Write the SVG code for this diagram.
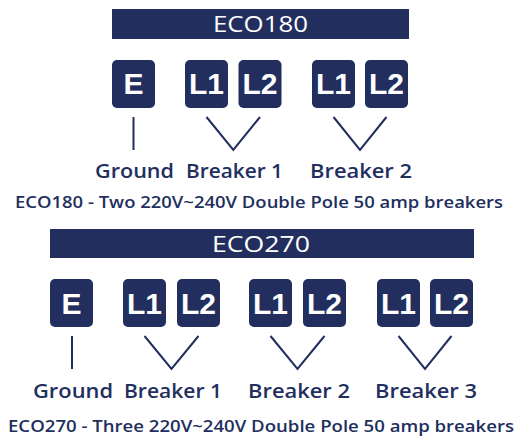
<svg xmlns="http://www.w3.org/2000/svg" width="520" height="436" viewBox="0 0 520 436">
<style>
.bar{fill:#222F5E}
.bt{fill:#fff;font-family:"Open Sans","Liberation Sans",sans-serif;font-weight:500;font-size:21.5px;text-anchor:middle}
.box{fill:#222F5E}
.k{fill:#fff;font-family:"Liberation Sans",Arial,sans-serif;font-weight:bold;font-size:30px;text-anchor:middle}
.lbl{fill:#222F5E;font-family:"Open Sans","Liberation Sans",sans-serif;font-weight:600;font-size:20px;text-anchor:middle}
.cap{fill:#222F5E;font-family:"Open Sans","Liberation Sans",sans-serif;font-weight:600;font-size:16px;text-anchor:middle}
.ln{fill:none;stroke:#222F5E;stroke-width:2}
</style>
<rect width="520" height="436" fill="#fff"/>

<g id="hdr180"><rect class="bar" x="112" y="9" width="297" height="30"/><text class="bt" x="260.5" y="32" textLength="95" lengthAdjust="spacingAndGlyphs">ECO180</text></g>
<g id="t-E"><rect class="box" x="112" y="60" width="43" height="48" rx="5"/><text class="k" x="133.5" y="94">E</text></g>
<g id="t-b1-L1"><rect class="box" x="185" y="60" width="43" height="48" rx="5"/><text class="k" x="206.5" y="94">L1</text></g>
<g id="t-b1-L2"><rect class="box" x="238.5" y="60" width="43" height="48" rx="5"/><text class="k" x="260" y="94">L2</text></g>
<g id="t-b2-L1"><rect class="box" x="312" y="60" width="43" height="48" rx="5"/><text class="k" x="333.5" y="94">L1</text></g>
<g id="t-b2-L2"><rect class="box" x="365" y="60" width="43" height="48" rx="5"/><text class="k" x="386.5" y="94">L2</text></g>
<g id="t-lbl-g"><text class="lbl" x="134.5" y="178" textLength="79" lengthAdjust="spacingAndGlyphs">Ground</text></g>
<g id="t-lbl-b1"><text class="lbl" x="234.5" y="178" textLength="97" lengthAdjust="spacingAndGlyphs">Breaker 1</text></g>
<g id="t-lbl-b2"><text class="lbl" x="361" y="178" textLength="102" lengthAdjust="spacingAndGlyphs">Breaker 2</text></g>
<g id="t-cap"><text class="cap" x="259" y="208" textLength="488" lengthAdjust="spacingAndGlyphs">ECO180 - Two 220V~240V Double Pole 50 amp breakers</text></g>

<g id="hdr270"><rect class="bar" x="50" y="229" width="424" height="29"/><text class="bt" x="261" y="252" textLength="98" lengthAdjust="spacingAndGlyphs">ECO270</text></g>
<g id="b-E"><rect class="box" x="50" y="279" width="43" height="48" rx="5"/><text class="k" x="71.5" y="314">E</text></g>
<g id="b-b1-L1"><rect class="box" x="123" y="279" width="43" height="48" rx="5"/><text class="k" x="144.5" y="314">L1</text></g>
<g id="b-b1-L2"><rect class="box" x="177" y="279" width="43" height="48" rx="5"/><text class="k" x="198.5" y="314">L2</text></g>
<g id="b-b2-L1"><rect class="box" x="249" y="279" width="43" height="48" rx="5"/><text class="k" x="270.5" y="314">L1</text></g>
<g id="b-b2-L2"><rect class="box" x="303" y="279" width="43" height="48" rx="5"/><text class="k" x="324.5" y="314">L2</text></g>
<g id="b-b3-L1"><rect class="box" x="377" y="279" width="43" height="48" rx="5"/><text class="k" x="398.5" y="314">L1</text></g>
<g id="b-b3-L2"><rect class="box" x="430" y="279" width="43" height="48" rx="5"/><text class="k" x="451.5" y="314">L2</text></g>
<g id="b-lbl-g"><text class="lbl" x="73" y="398" textLength="80" lengthAdjust="spacingAndGlyphs">Ground</text></g>
<g id="b-lbl-b1"><text class="lbl" x="173" y="398" textLength="98" lengthAdjust="spacingAndGlyphs">Breaker 1</text></g>
<g id="b-lbl-b2"><text class="lbl" x="299" y="398" textLength="102" lengthAdjust="spacingAndGlyphs">Breaker 2</text></g>
<g id="b-lbl-b3"><text class="lbl" x="426" y="398" textLength="102" lengthAdjust="spacingAndGlyphs">Breaker 3</text></g>
<g id="b-cap"><text class="cap" x="261" y="432" textLength="506" lengthAdjust="spacingAndGlyphs">ECO270 - Three 220V~240V Double Pole 50 amp breakers</text></g>

<g id="connectors">
<path class="ln" d="M133.5 117V150"/>
<path class="ln" d="M206.5 117L233.3 150L260 117"/>
<path class="ln" d="M333.5 117L360 150L386.5 117"/>
<path class="ln" d="M72 336V369"/>
<path class="ln" d="M144.5 336L171.5 369L198.5 336"/>
<path class="ln" d="M270.5 336L297.5 369L324.5 336"/>
<path class="ln" d="M398.5 336L425 369L451.5 336"/>
</g>
</svg>
